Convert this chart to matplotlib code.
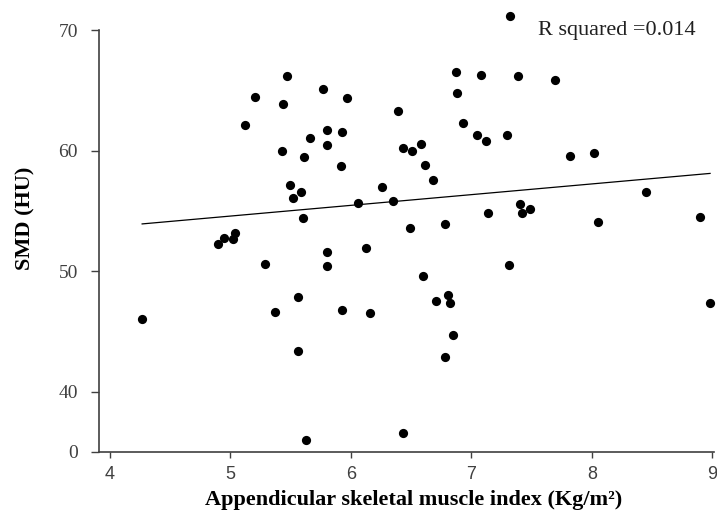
import numpy as np
from matplotlib import pyplot as plt

# ============================================================
# Dados
# ============================================================

asmi = [5.12, 5.21, 5.47, 5.44, 5.43, 5.77, 5.97, 5.80, 5.93, 5.66,
        5.80, 5.61, 5.92, 5.50, 5.59, 5.52, 6.06, 5.60, 4.90, 4.95,
        5.02, 5.04, 5.80, 7.32, 6.87, 7.08, 7.39, 7.69, 6.88, 6.39,
        6.93, 7.05, 7.30, 7.12, 6.43, 6.51, 6.58, 6.62, 6.68, 7.82,
        8.02, 6.26, 6.35, 8.45, 7.40, 7.42, 7.49, 7.14, 6.49, 6.78,
        8.05, 8.90, 6.13, 5.29, 5.80, 5.56, 5.37, 5.93, 4.27, 5.56,
        5.63, 7.31, 6.60, 6.81, 6.71, 6.82, 6.16, 8.98, 6.85, 6.78,
        6.43]

smd = [62.1, 64.5, 66.2, 63.9, 60.0, 65.1, 64.4, 61.7, 61.6, 61.1,
       60.5, 59.5, 58.7, 57.2, 56.6, 56.1, 55.7, 54.4, 52.3, 52.8,
       52.7, 53.2, 51.6, 71.2, 66.5, 66.3, 66.2, 65.9, 64.8, 63.3,
       62.3, 61.3, 61.3, 60.8, 60.2, 60.0, 60.6, 58.8, 57.6, 59.6,
       59.8, 57.0, 55.8, 56.6, 55.6, 54.8, 55.2, 54.8, 53.6, 53.9,
       54.1, 54.5, 51.9, 50.6, 50.4, 47.9, 46.6, 46.8, 46.0, 43.4,
       36.0, 50.5, 49.6, 48.0, 47.5, 47.4, 46.5, 47.4, 44.7, 42.9,
       36.6]

# reta de regressão
reta_intercepto = 50.13
reta_inclinacao = 0.89

x_ticks = [4, 5, 6, 7, 8, 9]
y_ticks = [35, 40, 50, 60, 70]
y_tick_labels = ["0", "40", "50", "60", "70"]

r2_texto = "R squared =0.014"

# ============================================================
# Figura
# ============================================================

serif = ["Liberation Serif", "DejaVu Serif"]
sans = ["Liberation Sans", "DejaVu Sans"]
cinza = "#404040"

fig = plt.figure(figsize=(7.17, 5.12), dpi=100)
ax = fig.add_axes([0.1377, 0.1172, 0.858, 0.8236])

ax.scatter(asmi, smd, s=44, color="black", zorder=3, clip_on=False,
           linewidths=0)

xr = np.array([min(asmi), max(asmi)])
ax.plot(xr, reta_intercepto + reta_inclinacao * xr, color="black", lw=0.9)

ax.set_xlim(3.91, 9.012)
ax.set_ylim(35, 70)

ax.set_xticks(x_ticks)
ax.set_xticklabels([str(t) for t in x_ticks], family=sans, fontsize=13,
                   color=cinza)
ax.set_yticks(y_ticks)
ax.set_yticklabels(y_tick_labels, family=serif, fontsize=14, color=cinza)

ax.tick_params(axis="x", length=4, width=1.0, color=cinza, pad=6)
ax.tick_params(axis="y", length=6, width=1.0, color=cinza, pad=9)

for lado in ["top", "right"]:
    ax.spines[lado].set_visible(False)
for lado in ["left", "bottom"]:
    ax.spines[lado].set_color(cinza)
    ax.spines[lado].set_linewidth(1.2)

ax.set_xlabel("Appendicular skeletal muscle index (Kg/m²)", family=serif,
              fontweight="bold", fontsize=16)
ax.xaxis.set_label_coords(0.512, -0.09)
ax.set_ylabel("SMD (HU)", family=serif, fontweight="bold", fontsize=16)
ax.yaxis.set_label_coords(-0.102, 0.553)

ax.text(0.97, 1.0, r2_texto, transform=ax.transAxes, family=serif,
        fontsize=16, ha="right", va="center", color="#202020")

fig.savefig("out.png", dpi=100)
